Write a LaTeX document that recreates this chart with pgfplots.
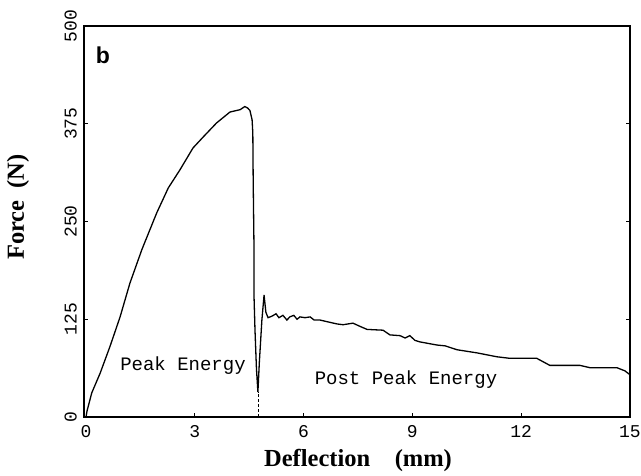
\documentclass[border=0pt]{standalone}
\usepackage{fontspec}
\setmainfont{Liberation Serif}
\newfontfamily\monofont{Liberation Mono}
\newfontfamily\arialfont{Liberation Sans}
\usepackage{pgfplots}
\pgfplotsset{compat=1.18}
\begin{document}
\begin{tikzpicture}[x=1pt,y=1pt]
\useasboundingbox (-84,-59) rectangle (557,417);
\begin{axis}[
  at={(0,0)}, anchor=south west,
  width=546pt, height=391pt, scale only axis,
  xmin=-0.055, xmax=15, ymin=0, ymax=500,
  xtick={0,3,6,9,12,15}, ytick={0,125,250,375,500},
  xtick pos=bottom, ytick pos=both,
  tick align=inside, major tick length=4pt,
  axis line style={line width=1.2pt},
  tick style={line width=0.8pt, black},
  /pgf/number format/assume math mode=true,
  ticklabel style={font=\monofont\fontsize{18}{20}\selectfont},
  xticklabel style={inner sep=0pt, yshift=-8pt},
  yticklabel style={rotate=90, anchor=south, inner sep=0pt},
  yticklabel shift=7pt,
]
\addplot[black, line width=1.3pt] coordinates {
(0,0) (0.03,8) (0.16,31) (0.39,56) (0.66,90) (0.94,128) (1.21,171)
(1.54,214) (1.95,261) (2.27,293) (2.59,316) (2.95,344) (3.23,358)
(3.60,376) (3.97,390) (4.25,393) (4.38,397) (4.46,395) (4.52,392)
(4.58,380) (4.60,363) (4.61,303)
(4.63,226) (4.63,159) (4.66,111) (4.70,62) (4.74,32) (4.78,70)
(4.85,124) (4.91,156) (4.96,134) (5.02,127) (5.13,129) (5.24,132)
(5.32,127) (5.43,130) (5.54,124) (5.62,128) (5.73,130) (5.82,125)
(5.90,128) (6.04,127) (6.18,128) (6.29,124) (6.45,124) (6.73,121)
(6.92,119) (7.09,118) (7.36,120) (7.55,116) (7.75,112) (8.19,111)
(8.38,105) (8.66,104) (8.80,101) (8.93,104) (9.07,98) (9.21,96)
(9.68,92) (9.90,91) (10.23,86) (10.78,82) (11.33,77) (11.69,75)
(12.43,75) (12.79,66) (13.62,66) (13.90,63) (14.64,63) (14.86,59)
(15,54)
};
\addplot[black, line width=0.9pt, dashed, dash pattern=on 3pt off 2pt] coordinates {(4.75,0) (4.75,32)};
\end{axis}
\node[font=\arialfont\bfseries\fontsize{23}{26}\selectfont] at (19,362) {b};
\node[font=\monofont\fontsize{19}{22}\selectfont] at (99,51) {Peak Energy};
\node[font=\monofont\fontsize{19}{22}\selectfont] at (322,37) {Post Peak Energy};
\node[font=\bfseries\fontsize{24.5}{28}\selectfont] at (274,-43) {Deflection\quad(mm)};
\node[font=\bfseries\fontsize{24.5}{28}\selectfont, rotate=90] at (-66,210) {Force\enspace(N)};
\end{tikzpicture}
\end{document}
